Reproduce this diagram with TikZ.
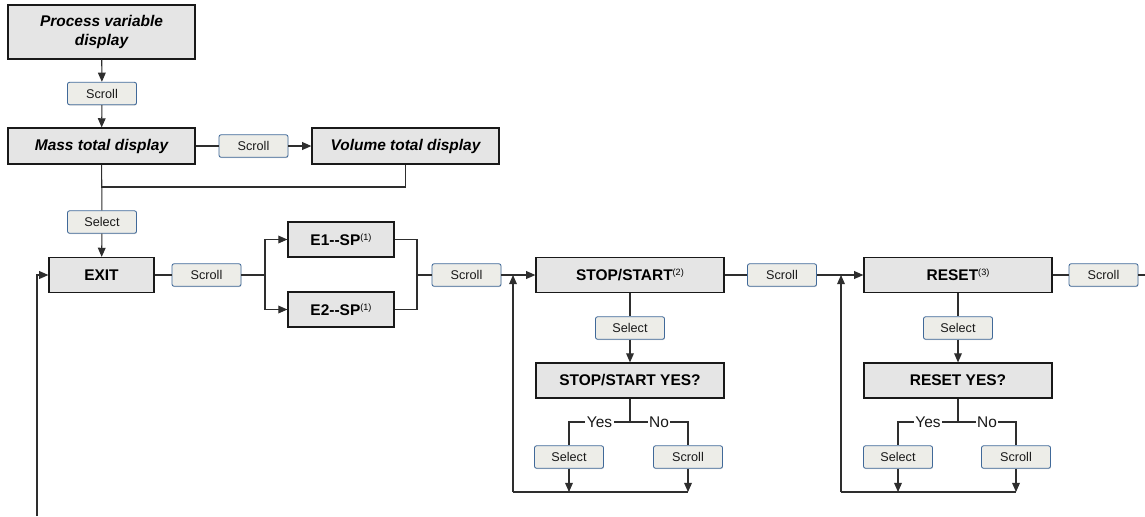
\documentclass[tikz,border=0pt]{standalone}
\usepackage{fontspec}
\newfontfamily\arialfont{Liberation Sans}
\usetikzlibrary{arrows.meta,calc,shadows}
\definecolor{BoxClr}{rgb}{0.9,0.9,0.9}
\definecolor{KeyClr}{rgb}{0.93,0.93,0.91}
\definecolor{KeyLine}{rgb}{0.25,0.41,0.6}
\definecolor{WireClr}{rgb}{0.18,0.18,0.18}
\newcommand{\fnote}[1]{\raisebox{0.6ex}{\fontsize{6.5}{7}\selectfont\mdseries(#1)}}

\begin{document}
\begin{tikzpicture}[x=0.025cm,y=-0.025cm,
  panel/.style={draw=black!90,fill=BoxClr,line width=0.85pt,inner sep=0pt,
    minimum height=0.875cm,text=black,
    font=\arialfont\fontsize{11}{12}\selectfont\bfseries},
  ital/.style={font=\arialfont\fontsize{11}{13}\selectfont\bfseries\itshape},
  keybtn/.style={draw=KeyLine,fill=KeyClr,line width=0.6pt,rounded corners=1.5pt,
    inner sep=0pt,minimum width=1.725cm,minimum height=0.5625cm,text=black!90,
    drop shadow={shadow xshift=0.3pt,shadow yshift=-0.6pt,opacity=0.3},
    font=\arialfont\fontsize{9}{10}\selectfont},
  yesno/.style={fill=white,inner sep=1pt,text=black!90,
    font=\arialfont\fontsize{11}{12}\selectfont},
  wire/.style={draw=WireClr,line width=0.75pt},
  tip/.style={wire,-{Triangle[length=6.5pt,width=5.5pt]}}]

\useasboundingbox (0,0) rectangle (1145,516);

% display chain
\node[panel,ital,minimum width=4.675cm,minimum height=1.35cm,align=center] (pvd) at (101.5,32) {Process variable\\display\vphantom{P}};
\node[keybtn] (scrA) at (102,93.5) {Scroll};
\node[panel,ital,minimum width=4.675cm,minimum height=0.9cm] (mass) at (101.5,146) {Mass total display};
\node[keybtn] (scrB) at (253.5,146) {Scroll};
\node[panel,ital,minimum width=4.675cm,minimum height=0.9cm] (vol) at (405.5,146) {Volume total display};
\node[keybtn] (selA) at (102,222) {Select};

% menu row
\node[panel,minimum width=2.625cm] (exit) at (101.5,275) {EXIT};
\node[keybtn] (scrC) at (206.5,275) {Scroll};
\node[panel,minimum width=2.65cm] (esp1) at (341,239.5) {E1--SP\fnote{1}};
\node[panel,minimum width=2.65cm] (esp2) at (341,309.5) {E2--SP\fnote{1}};
\node[keybtn] (scrD) at (466.5,275) {Scroll};
\node[panel,minimum width=4.7cm] (stst) at (630,275) {STOP/START\fnote{2}};
\node[keybtn] (scrE) at (782,275) {Scroll};
\node[panel,minimum width=4.7cm] (reset) at (958,275) {RESET\fnote{3}};
\node[keybtn] (scrF) at (1103.5,275) {Scroll};

% confirm branches
\node[keybtn] (selB) at (630,328) {Select};
\node[panel,minimum width=4.7cm] (ststyes) at (630,380.5) {STOP/START YES?};
\node[keybtn] (selC) at (569,457) {Select};
\node[keybtn] (scrG) at (688,457) {Scroll};

\node[keybtn] (selD) at (958,328) {Select};
\node[panel,minimum width=4.7cm] (resetyes) at (958,380.5) {RESET YES?};
\node[keybtn] (selE) at (898,457) {Select};
\node[keybtn] (scrH) at (1016,457) {Scroll};

\coordinate (mj) at (101.5,187);
\coordinate (esplit) at (265,275);
\coordinate (emerge) at (417,275);
\coordinate (lpA) at (513,492);
\coordinate (lpB) at (841,492);
\coordinate (ynA) at (630,422);
\coordinate (ynB) at (958,422);
\coordinate (outR) at (1145,275);
\coordinate (back) at (37,516);

\draw[tip] (pvd) -- (scrA);
\draw[tip] (scrA) -- (mass);
\draw[wire] (mass) -- (scrB);
\draw[tip] (scrB) -- (vol);
\draw[wire] (vol.south) |- (mj);
\draw[wire] (mass) -- (selA);
\draw[tip] (selA) -- (exit);

\draw[wire] (exit) -- (scrC);
\draw[wire] (scrC) -- (esplit);
\draw[tip] (esplit) |- (esp1);
\draw[tip] (esplit) |- (esp2);
\draw[wire] (esp1.east) -| (emerge);
\draw[wire] (esp2.east) -| (emerge);
\draw[wire] (emerge) -- (scrD);
\draw[tip] (scrD) -- (stst);
\draw[tip] (lpA) -- (lpA |- stst.west);

\draw[wire] (stst) -- (selB);
\draw[tip] (selB) -- (ststyes);
\draw[wire] (ststyes) -- (ynA);
\draw[wire] (ynA) -| node[pos=0.25,yesno] {Yes} (selC);
\draw[wire] (ynA) -| node[pos=0.25,yesno] {No} (scrG);
\draw[tip] (selC) -- (selC |- lpA);
\draw[tip] (scrG) -- (scrG |- lpA);
\draw[wire] (lpA) -- (scrG |- lpA);

\draw[wire] (stst) -- (scrE);
\draw[tip] (scrE) -- (reset);
\draw[tip] (lpB) -- (lpB |- reset.west);

\draw[wire] (reset) -- (selD);
\draw[tip] (selD) -- (resetyes);
\draw[wire] (resetyes) -- (ynB);
\draw[wire] (ynB) -| node[pos=0.25,yesno] {Yes} (selE);
\draw[wire] (ynB) -| node[pos=0.25,yesno] {No} (scrH);
\draw[tip] (selE) -- (selE |- lpB);
\draw[tip] (scrH) -- (scrH |- lpB);
\draw[wire] (lpB) -- (scrH |- lpB);

\draw[wire] (reset) -- (scrF);
\draw[wire] (scrF) -- (outR);
\draw[tip] (back) |- (exit);

\end{tikzpicture}
\end{document}
